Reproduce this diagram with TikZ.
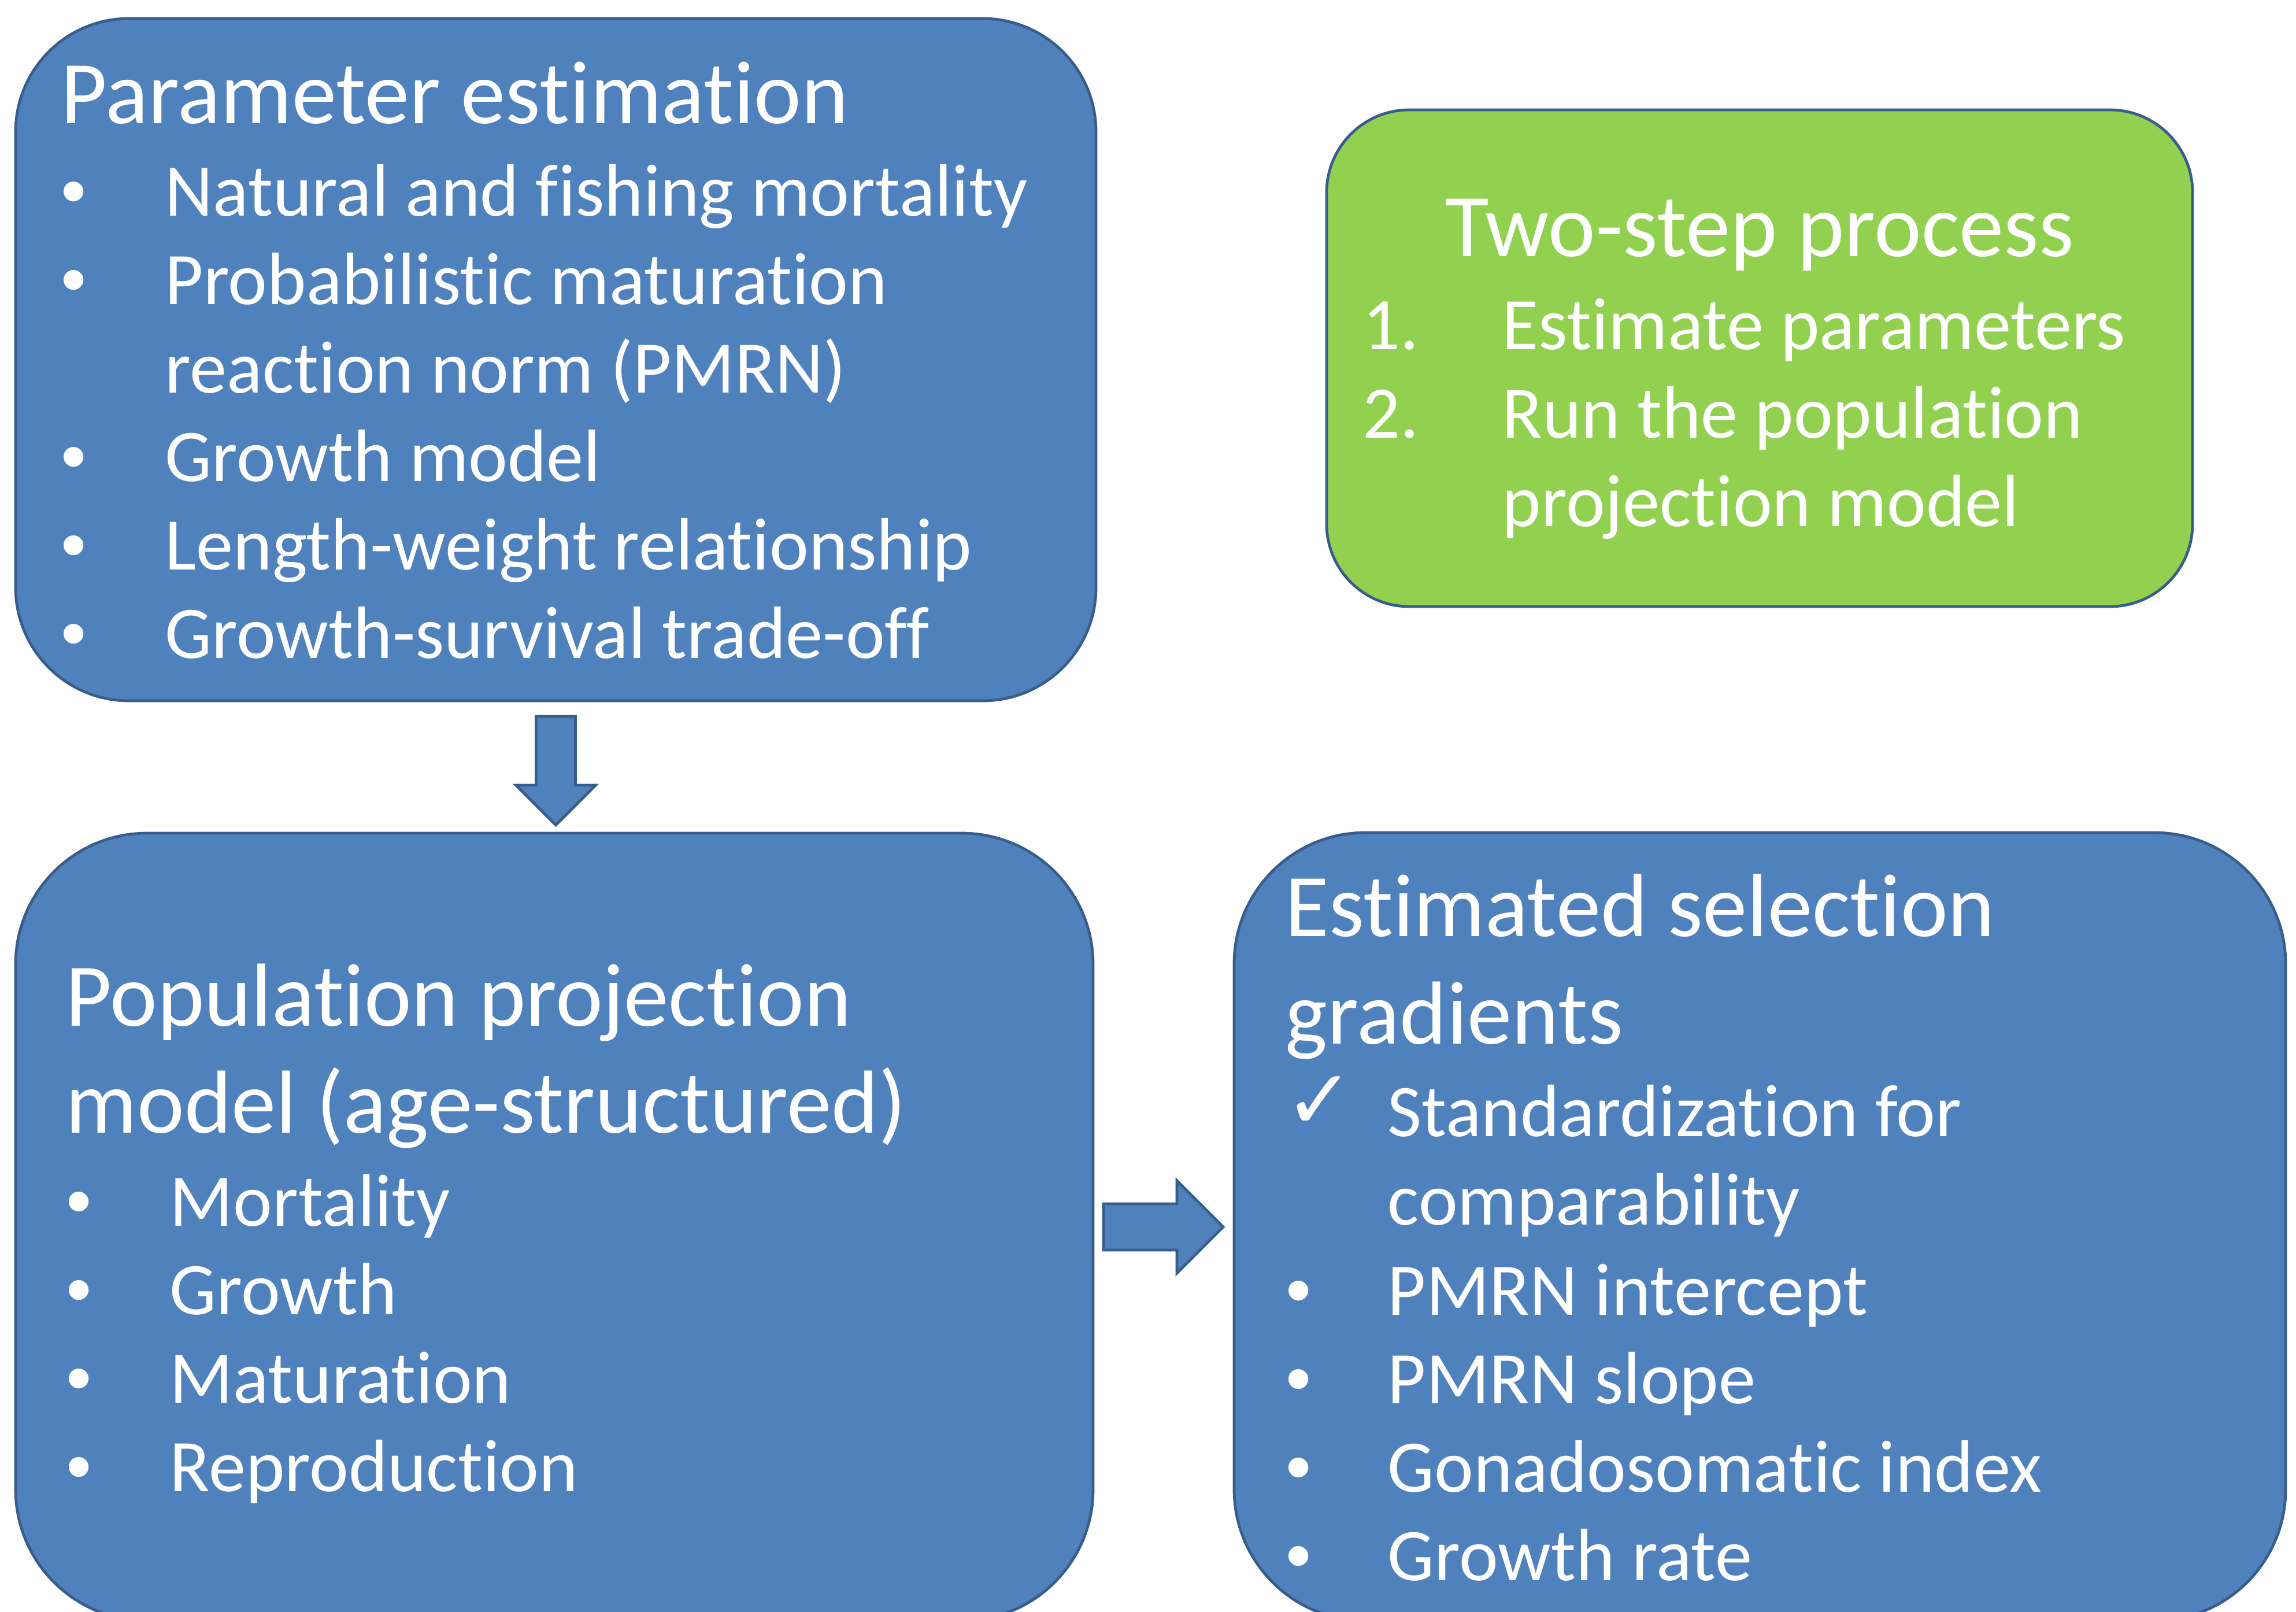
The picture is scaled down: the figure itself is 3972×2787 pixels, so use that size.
\documentclass[tikz,border=0pt]{standalone}
\usepackage{fontspec}
\setmainfont{Carlito}[Ligatures={NoCommon}]
\newfontfamily\bulletfont{Liberation Sans}
\newfontfamily\symfont{DejaVu Sans}
\usetikzlibrary{calc}
\definecolor{boxblue}{HTML}{4F81BD}
\definecolor{edgeblue}{HTML}{385D8A}
\definecolor{boxgreen}{HTML}{92D050}
\begin{document}
\begin{tikzpicture}[x=0.25pt,y=-0.25pt,
  boxbase/.style={draw=edgeblue, line width=1.2pt, inner sep=0pt, outer sep=0pt},
  bluebox/.style={boxbase, fill=boxblue},
  greenbox/.style={boxbase, fill=boxgreen},
  titletxt/.style={anchor=base west, inner sep=0pt, text=white, font=\fontsize{38.7}{46}\selectfont},
  itemtxt/.style={anchor=base west, inner sep=0pt, text=white, font=\fontsize{32.1}{38}\selectfont},
  bultxt/.style={anchor=base west, inner sep=0pt, text=white, font=\bulletfont\fontsize{31.6}{38}\selectfont},
  checktxt/.style={anchor=base west, inner sep=0pt, text=white, font=\symfont\bfseries\fontsize{36}{40}\selectfont},
  blockarrow/.style={draw=edgeblue, line width=1.2pt, fill=boxblue, line join=miter}]
\useasboundingbox (0,0) rectangle (3972,2787);
\clip (0,0) rectangle (3972,2787);

% boxes
\node[bluebox, minimum width=467.25pt, minimum height=295pt, rounded corners=49pt] (pe) at (961.5,622) {};
\node[greenbox, minimum width=374.5pt, minimum height=214.75pt, rounded corners=35.75pt] (ts) at (3044,619.5) {};
\node[bluebox, minimum width=466pt, minimum height=340.5pt, rounded corners=56.75pt] (ppm) at (959,2122) {};
\node[bluebox, minimum width=454.75pt, minimum height=340.75pt, rounded corners=56.75pt] (esg) at (3044.5,2121.5) {};

% block arrows
\coordinate (d0) at ($(pe.south)+(0,27)$);
\coordinate (d1) at ($(pe.south |- ppm.north)+(0,-14)$);
\draw[blockarrow] ($(d0)+(-34,0)$) -- ($(d0)+(34,0)$) -- ($(d1)+(34,-69)$) -- ($(d1)+(69,-69)$) -- (d1)
  -- ($(d1)+(-69,-69)$) -- ($(d1)+(-34,-69)$) -- cycle;
\coordinate (r0) at ($(ppm.east)+(18,0)$);
\coordinate (r1) at ($(esg.west |- ppm.east)+(-19,0)$);
\draw[blockarrow] ($(r0)+(0,-40)$) -- ($(r1)+(-80,-40)$) -- ($(r1)+(-80,-80)$) -- (r1)
  -- ($(r1)+(-80,80)$) -- ($(r1)+(-80,40)$) -- ($(r0)+(0,40)$) -- cycle;

% Parameter estimation
\node[titletxt] (pe-t) at (105,213) {Parameter estimation};
\node[bultxt] (pe-b1) at (105,373) {•};
\node[itemtxt] (pe-i1) at (285,373) {Natural and fishing mortality};
\node[bultxt] (pe-b2) at (105,526) {•};
\node[itemtxt] (pe-i2) at (285,526) {Probabilistic maturation};
\node[itemtxt] (pe-i2b) at (285,679) {reaction norm (PMRN)};
\node[bultxt] (pe-b3) at (105,832) {•};
\node[itemtxt] (pe-i3) at (285,832) {Growth model};
\node[bultxt] (pe-b4) at (105,985) {•};
\node[itemtxt] (pe-i4) at (285,985) {Length-weight relationship};
\node[bultxt] (pe-b5) at (105,1138) {•};
\node[itemtxt] (pe-i5) at (285,1138) {Growth-survival trade-off};

% Two-step process
\node[titletxt, anchor=base] (ts-t) at (3044,443) {Two-step process};
\node[itemtxt] (ts-n1) at (2357,604) {1.};
\node[itemtxt] (ts-i1) at (2598,604) {Estimate parameters};
\node[itemtxt] (ts-n2) at (2357,757) {2.};
\node[itemtxt] (ts-i2) at (2598,757) {Run the population};
\node[itemtxt] (ts-i2b) at (2598,910) {projection model};

% Population projection model
\node[titletxt] (ppm-t1) at (113,1774) {Population projection};
\node[titletxt] (ppm-t2) at (113,1959) {model (age-structured)};
\node[bultxt] (ppm-b1) at (114,2120) {•};
\node[itemtxt] (ppm-i1) at (293,2120) {Mortality};
\node[bultxt] (ppm-b2) at (114,2273) {•};
\node[itemtxt] (ppm-i2) at (293,2273) {Growth};
\node[bultxt] (ppm-b3) at (114,2426) {•};
\node[itemtxt] (ppm-i3) at (293,2426) {Maturation};
\node[bultxt] (ppm-b4) at (114,2579) {•};
\node[itemtxt] (ppm-i4) at (293,2579) {Reproduction};

% Estimated selection gradients
\node[titletxt] (esg-t1) at (2223,1619) {Estimated selection};
\node[titletxt] (esg-t2) at (2223,1805) {gradients};
\node[checktxt] (esg-c) at (2222,1952) {✓};
\node[itemtxt] (esg-i0) at (2400,1965) {Standardization for};
\node[itemtxt] (esg-i0b) at (2400,2118) {comparability};
\node[bultxt] (esg-b1) at (2224,2274) {•};
\node[itemtxt] (esg-i1) at (2400,2274) {PMRN intercept};
\node[bultxt] (esg-b2) at (2224,2427) {•};
\node[itemtxt] (esg-i2) at (2400,2427) {PMRN slope};
\node[bultxt] (esg-b3) at (2224,2580) {•};
\node[itemtxt] (esg-i3) at (2400,2580) {Gonadosomatic index};
\node[bultxt] (esg-b4) at (2224,2733) {•};
\node[itemtxt] (esg-i4) at (2400,2733) {Growth rate};
\end{tikzpicture}
\end{document}
